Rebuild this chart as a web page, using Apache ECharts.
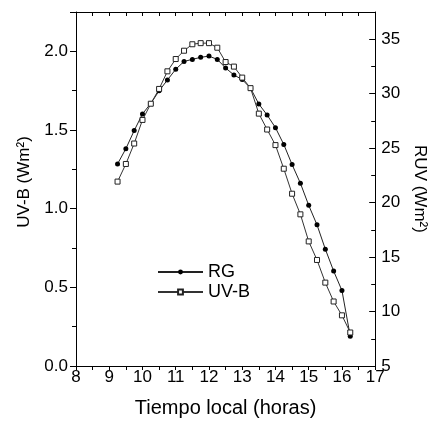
<!DOCTYPE html>
<html>
<head>
<meta charset="utf-8">
<script src="https://cdn.jsdelivr.net/npm/echarts@6/dist/echarts.min.js"></script>
<style>
  html, body { margin: 0; padding: 0; background: #fff; }
  #graph1 { width: 436px; height: 423px; }
</style>
</head>
<body>
<div id="graph1"></div>
<script>
  // hora local
  var horas = [9.25, 9.5, 9.75, 10, 10.25, 10.5, 10.75, 11, 11.25, 11.5, 11.75, 12, 12.25, 12.5,
    12.75, 13, 13.25, 13.5, 13.75, 14, 14.25, 14.5, 14.75, 15, 15.25, 15.5, 15.75, 16, 16.25];
  // RG (eje derecho, RUV Wm2)
  var rgData = [23.55, 24.95, 26.61, 28.14, 29.11, 30.26, 31.26, 32.24, 32.96, 33.15, 33.34, 33.45, 33.15, 32.36,
    31.72, 31.30, 30.51, 29.05, 28.04, 26.88, 25.34, 23.49, 21.78, 19.75, 17.96, 15.73, 13.72, 11.93, 7.73];
  // UV-B (eje izquierdo, Wm2)
  var uvbData = [1.172, 1.284, 1.414, 1.564, 1.667, 1.761, 1.873, 1.951, 2.004, 2.045, 2.052, 2.052, 2.023, 1.932,
    1.903, 1.833, 1.766, 1.604, 1.503, 1.404, 1.254, 1.095, 0.964, 0.792, 0.674, 0.530, 0.410, 0.322, 0.213];

  var myChart1 = echarts.init(document.getElementById('graph1'));
  var fuente = 'Liberation Sans';

  var sRG = [], sUVB = [];
  for (var i = 0; i < horas.length; i++) {
    sRG.push([horas[i], rgData[i]]);
    sUVB.push([horas[i], uvbData[i]]);
  }

  var option = {
    animation: false,
    backgroundColor: '#fff',
    textStyle: { fontFamily: fuente, color: '#000' },
    grid: { left: 76, right: 53, top: 12, bottom: 55 },
    legend: {
      orient: 'vertical',
      left: 152,
      top: 258,
      itemWidth: 45,
      itemHeight: 6,
      itemGap: 2,
      textStyle: { fontFamily: fuente, fontSize: 18, color: '#000' },
      data: ['RG', 'UV-B']
    },
    xAxis: [
      {
        type: 'value', min: 8, max: 17, interval: 1,
        name: 'Tiempo local (horas)', nameLocation: 'middle', nameGap: 32,
        nameTextStyle: { fontFamily: fuente, fontSize: 20, color: '#000' },
        axisLine: { lineStyle: { color: '#000', width: 1 } },
        axisTick: { inside: false, length: 4, lineStyle: { color: '#000' } },
        minorTick: { show: true, splitNumber: 2, length: 4, lineStyle: { color: '#000' } },
        axisLabel: { margin: 3, fontSize: 17, color: '#000', fontFamily: fuente },
        splitLine: { show: false }
      },
      {
        type: 'value', min: 8, max: 17, interval: 0.5, position: 'top',
        axisLine: { lineStyle: { color: '#000', width: 1 } },
        axisTick: { inside: true, length: 4, lineStyle: { color: '#000' } },
        axisLabel: { show: false },
        splitLine: { show: false }
      }
    ],
    yAxis: [
      {
        type: 'value', min: 0, max: 2.25, interval: 0.5,
        name: 'UV-B (Wm²)', nameLocation: 'middle', nameGap: 43,
        nameTextStyle: { fontFamily: fuente, fontSize: 17, color: '#000', padding: [0, 0, 0, 14] },
        axisLine: { show: true, lineStyle: { color: '#000', width: 1 } },
        axisTick: { inside: false, length: 6, lineStyle: { color: '#000' } },
        minorTick: { show: true, splitNumber: 2, length: 4, lineStyle: { color: '#000' } },
        axisLabel: {
          margin: 8, fontSize: 17, color: '#000', fontFamily: fuente, showMaxLabel: false,
          formatter: function (v) { return v.toFixed(1); }
        },
        splitLine: { show: false }
      },
      {
        type: 'value', min: 5, max: 37.5, interval: 5, position: 'right',
        name: 'RUV (Wm²)', nameLocation: 'middle', nameGap: 25, nameRotate: -90,
        nameTextStyle: { fontFamily: fuente, fontSize: 17, color: '#000' },
        axisLine: { show: true, lineStyle: { color: '#000', width: 1 } },
        axisTick: { inside: true, length: 6, lineStyle: { color: '#000' } },
        minorTick: { show: true, splitNumber: 2, length: 4, lineStyle: { color: '#000' } },
        axisLabel: { margin: 6, fontSize: 17, color: '#000', fontFamily: fuente, showMaxLabel: false },
        splitLine: { show: false }
      }
    ],
    series: [
      {
        name: 'RG', type: 'line', yAxisIndex: 1, data: sRG,
        symbol: 'circle', symbolSize: 5,
        itemStyle: { color: '#000' },
        lineStyle: { color: '#222', width: 1 }
      },
      {
        name: 'UV-B', type: 'line', yAxisIndex: 0, data: sUVB,
        symbol: 'rect', symbolSize: 5,
        itemStyle: { color: '#fff', borderColor: '#222', borderWidth: 1 },
        lineStyle: { color: '#333', width: 1 }
      }
    ]
  };
  myChart1.setOption(option);
</script>
</body>
</html>
